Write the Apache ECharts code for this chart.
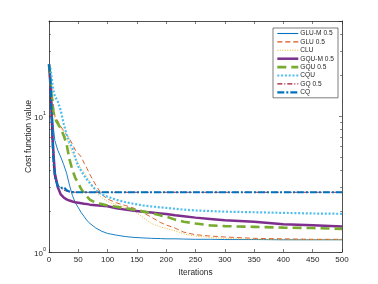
<!DOCTYPE html>
<html>
<head>
<meta charset="utf-8">
<script src="https://cdn.jsdelivr.net/npm/echarts@6/dist/echarts.min.js"></script>
<style>
html,body{margin:0;padding:0;background:#fff;}
#chart{width:378px;height:284px;}
</style>
</head>
<body>
<div id="chart"></div>
<script>
var iters = [0,2,4,6,8,10,15,20,25,30,35,40,45,50,55,60,65,70,80,90,100,115,130,145,160,175,190,200,215,230,250,275,300,350,400,450,500];

var gluM05 = [24,20,14,10,7.8,6.6,5.6,5.0,4.4,3.8,3.1,2.6,2.3,2.12,1.95,1.82,1.7,1.62,1.5,1.42,1.37,1.33,1.3,1.28,1.27,1.26,1.255,1.25,1.25,1.245,1.24,1.24,1.235,1.235,1.23,1.23,1.23];
var glu05 = [24,22,18,14,11.5,10,9.2,8.4,7.8,7.3,6.8,6.2,5.6,5.3,5.0,4.5,4.1,3.7,3.1,2.65,2.45,2.3,2.2,2.1,1.95,1.8,1.65,1.58,1.5,1.4,1.34,1.31,1.29,1.26,1.25,1.24,1.24];
var clu = [24,20,15,12,10.5,9.5,8.8,8.2,7.5,6.8,6.0,5.3,4.9,4.5,4.1,3.85,3.55,3.25,2.75,2.5,2.35,2.22,2.12,2.0,1.8,1.62,1.53,1.49,1.43,1.36,1.31,1.28,1.26,1.24,1.23,1.23,1.23];
var gquM05 = [24,18,12,7,5,3.8,3.0,2.65,2.52,2.44,2.39,2.35,2.32,2.3,2.28,2.26,2.25,2.23,2.21,2.19,2.17,2.1,2.05,2.01,1.98,1.95,1.92,1.9,1.86,1.83,1.79,1.75,1.71,1.67,1.6,1.57,1.54];
var gqu05 = [24,20,15,12,10.5,9.6,8.8,8.1,7.2,6.2,4.8,4.0,3.5,3.2,2.9,2.7,2.55,2.42,2.3,2.25,2.2,2.15,2.1,2.05,1.99,1.93,1.86,1.82,1.73,1.67,1.62,1.57,1.55,1.53,1.51,1.5,1.48];
var cqu = [24,23,20,17,15,14,12.8,11,8.8,7.3,6.4,5.8,4.9,4.25,3.95,3.65,3.4,3.2,2.85,2.65,2.55,2.42,2.33,2.26,2.2,2.16,2.13,2.11,2.08,2.05,2.02,2.0,1.98,1.96,1.94,1.92,1.91];
var gq05 = [24,16,9,5.5,4,3.4,3.1,2.95,2.85,2.8,2.77,2.76,2.75,2.75,2.75,2.75,2.75,2.75,2.75,2.75,2.75,2.75,2.75,2.75,2.75,2.75,2.75,2.75,2.75,2.75,2.75,2.75,2.75,2.75,2.75,2.75,2.75];
var cq = [24,20,12,7,4.5,3.6,3.05,2.95,3.0,2.85,2.78,2.76,2.75,2.75,2.75,2.75,2.75,2.75,2.75,2.75,2.75,2.75,2.75,2.75,2.75,2.75,2.75,2.75,2.75,2.75,2.75,2.75,2.75,2.75,2.75,2.75,2.75];

var seriesNames = ['GLU-M 0.5','GLU 0.5','CLU','GQU-M 0.5','GQU 0.5','CQU','GQ 0.5','CQ'];
var seriesValues = [gluM05, glu05, clu, gquM05, gqu05, cqu, gq05, cq];
var xTicks = [0,50,100,150,200,250,300,350,400,450,500];

var styles = [
  {color:'#0072BD', width:0.9, type:'solid'},
  {color:'#D95319', width:0.9, type:[5,3]},
  {color:'#EDB120', width:0.9, type:[1,1.5]},
  {color:'#7E2F8E', width:2.5, type:'solid'},
  {color:'#77AC30', width:2.6, type:[9,5]},
  {color:'#4DBEEE', width:2.2, type:[2,1.8]},
  {color:'#A2142F', width:0.9, type:[5,2,1,2]},
  {color:'#0072BD', width:2.2, type:[7,2,2,2]}
];

function zip(xs, ys){ return xs.map(function(x,i){ return [x, ys[i]]; }); }

var axisColor = '#262626';
var font = 'Liberation Sans, Arial, sans-serif';

var series = seriesNames.map(function(n, i){
  return {
    name: n, type: 'line', showSymbol: false, symbol: 'none', smooth: false,
    xAxisIndex: 0, yAxisIndex: 0,
    data: zip(iters, seriesValues[i]),
    lineStyle: {color: styles[i].color, width: styles[i].width, type: styles[i].type},
    itemStyle: {color: styles[i].color},
    animation: false
  };
});

var legendData = seriesNames.map(function(n, i){
  return {name: n, itemStyle: {opacity: 0},
    lineStyle: {color: styles[i].color, width: Math.max(1.1, styles[i].width), type: styles[i].type}};
});

function yFmt(v){
  var e = Math.round(Math.log10(v));
  if (Math.abs(Math.pow(10,e) - v) > 1e-9) return '';
  return '{b|10}{s|' + e + '}';
}

var chart = echarts.init(document.getElementById('chart'), null, {renderer:'canvas'});
chart.setOption({
  animation: false,
  backgroundColor: '#fff',
  textStyle: {fontFamily: font},
  grid: {left: 49, right: 36, top: 21, bottom: 32, containLabel: false},
  legend: {
    orient: 'vertical', left: 273, top: 28,
    itemWidth: 21, itemHeight: 7, itemGap: 1.4,
    padding: [2, 4, 2, 3],
    borderColor: axisColor, borderWidth: 0.6, backgroundColor: '#fff',
    itemStyle: {opacity: 0},
    textStyle: {fontSize: 6.6, color: axisColor, fontFamily: font, padding: [0,0,0,-3]},
    data: legendData
  },
  xAxis: [{
    type: 'value', min: 0, max: 500, interval: 50, position: 'bottom',
    name: 'Iterations', nameLocation: 'middle', nameGap: 13,
    nameTextStyle: {fontSize: 8.3, color: axisColor, fontFamily: font},
    axisLine: {show: true, onZero: false, lineStyle: {color: axisColor, width: 0.8}},
    axisTick: {show: true, inside: true, length: 3, lineStyle: {color: axisColor, width: 0.6}},
    axisLabel: {fontSize: 8, color: axisColor, margin: 4, fontFamily: font,
      formatter: function(v){ return xTicks.indexOf(v) >= 0 ? String(v) : ''; }},
    splitLine: {show: false}
  },{
    type: 'value', min: 0, max: 500, interval: 50, position: 'top',
    axisLine: {show: true, onZero: false, lineStyle: {color: axisColor, width: 0.8}},
    axisTick: {show: true, inside: true, length: 3, lineStyle: {color: axisColor, width: 0.6}},
    axisLabel: {show: false}, splitLine: {show: false}
  }],
  yAxis: [{
    type: 'log', logBase: 10, min: 1, max: 50, position: 'left',
    name: 'Cost function value', nameLocation: 'middle', nameGap: 16, nameMoveOverlap: false,
    nameTextStyle: {fontSize: 8.6, color: axisColor, fontFamily: font},
    axisLine: {show: true, onZero: false, lineStyle: {color: axisColor, width: 0.8}},
    axisTick: {show: true, inside: true, length: 3, lineStyle: {color: axisColor, width: 0.6}},
    minorTick: {show: true, splitNumber: 9, length: 1.8, lineStyle: {color: axisColor, width: 0.6}},
    axisLabel: {formatter: yFmt, margin: 3, color: axisColor,
      rich: {b: {fontSize: 8, color: axisColor, fontFamily: font, verticalAlign: 'bottom', lineHeight: 11},
             s: {fontSize: 5.5, color: axisColor, fontFamily: font, verticalAlign: 'top', lineHeight: 11}}},
    splitLine: {show: false}, minorSplitLine: {show: false}
  },{
    type: 'log', logBase: 10, min: 1, max: 50, position: 'right',
    axisLine: {show: true, onZero: false, lineStyle: {color: axisColor, width: 0.8}},
    axisTick: {show: true, inside: true, length: 3, lineStyle: {color: axisColor, width: 0.6}},
    minorTick: {show: true, splitNumber: 9, length: 1.8, lineStyle: {color: axisColor, width: 0.6}},
    axisLabel: {show: false}, splitLine: {show: false}
  }],
  series: series
});
</script>
</body>
</html>
